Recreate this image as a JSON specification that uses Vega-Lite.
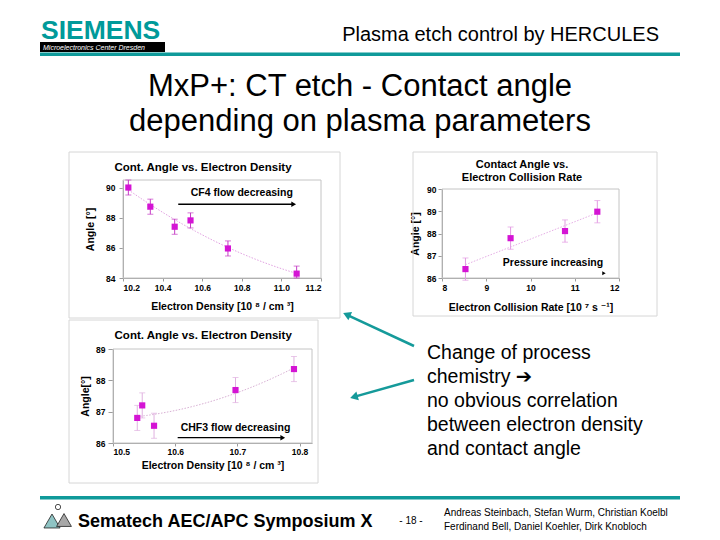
{
"$schema": "https://vega.github.io/schema/vega-lite/v6.json",
"width": 720,
"height": 540,
"autosize": {"type": "none"},
"padding": 0,
"background": "white",
"config": {
 "view": {"stroke": null},
 "font": "Liberation Sans, DejaVu Sans",
 "text": {"font": "Liberation Sans, DejaVu Sans", "color": "black"},
 "axis": {"labelFont": "Liberation Sans", "labelFontWeight": "bold", "labelFontSize": 8.5, "labelColor": "black", "titleFont": "Liberation Sans, DejaVu Sans", "titleFontWeight": "bold", "titleFontSize": 10.5, "titleColor": "black", "domainColor": "#9c9c9c", "tickColor": "#9c9c9c", "grid": false}
},
"resolve": {"scale": {"x": "independent", "y": "independent"}, "axis": {"x": "independent", "y": "independent"}},
"layer": [
 {
  "data": {"values": [
   {"x":10.227,"y":90.0,"lo":89.5,"hi":90.5},
   {"x":10.338,"y":88.73,"lo":88.23,"hi":89.23},
   {"x":10.461,"y":87.4,"lo":86.9,"hi":87.9},
   {"x":10.541,"y":87.82,"lo":87.32,"hi":88.32},
   {"x":10.73,"y":85.96,"lo":85.46,"hi":86.46},
   {"x":11.077,"y":84.29,"lo":84.0,"hi":84.79}]},
  "layer": [
   {"data":{"values":[{}]},"mark":{"type":"rect","filled":false,"color":"#c4c4c4","strokeWidth":1},
    "encoding":{
     "x":{"datum":10.2,"type":"quantitative","title":"Electron Density [10 ⁸ / cm ³]","scale":{"domain":[10.2,11.2],"range":[123,321],"nice":false,"zero":false},"axis":{"orient":"bottom","offset":-262,"values":[10.2,10.4,10.6,10.8,11,11.2],"format":".1f","tickSize":3,"labelPadding":2,"titlePadding":10}},
     "x2":{"datum":11.2},
     "y":{"datum":84,"type":"quantitative","title":"Angle [°]","scale":{"domain":[84,90.5],"range":[278,180],"nice":false,"zero":false},"axis":{"orient":"left","offset":-123,"values":[84,86,88,90],"tickSize":4,"labelPadding":4,"titlePadding":10}},
     "y2":{"datum":90.5}}},
   {"transform":[{"regression":"y","on":"x","method":"poly","order":2}],
    "mark":{"type":"line","color":"#e2a2e2","strokeWidth":1,"strokeDash":[1.5,1.5]},
    "encoding":{
     "x":{"field":"x","type":"quantitative","title":"Electron Density [10 ⁸ / cm ³]","scale":{"domain":[10.2,11.2],"range":[123,321],"nice":false,"zero":false},"axis":{"orient":"bottom","offset":-262,"values":[10.2,10.4,10.6,10.8,11,11.2],"format":".1f","tickSize":3,"labelPadding":2,"titlePadding":10}},
     "y":{"field":"y","type":"quantitative","title":"Angle [°]","scale":{"domain":[84,90.5],"range":[278,180],"nice":false,"zero":false},"axis":{"orient":"left","offset":-123,"values":[84,86,88,90],"tickSize":4,"labelPadding":4,"titlePadding":10}}}},
   {"mark":{"type":"rule","color":"#c43cc4","strokeWidth":1},
    "encoding":{
     "x":{"field":"x","type":"quantitative","title":"Electron Density [10 ⁸ / cm ³]","scale":{"domain":[10.2,11.2],"range":[123,321],"nice":false,"zero":false},"axis":{"orient":"bottom","offset":-262,"values":[10.2,10.4,10.6,10.8,11,11.2],"format":".1f","tickSize":3,"labelPadding":2,"titlePadding":10}},
     "y":{"field":"lo","type":"quantitative","title":"Angle [°]","scale":{"domain":[84,90.5],"range":[278,180],"nice":false,"zero":false},"axis":{"orient":"left","offset":-123,"values":[84,86,88,90],"tickSize":4,"labelPadding":4,"titlePadding":10}},
     "y2":{"field":"hi"}}},
   {"mark":{"type":"tick","orient":"horizontal","size":6,"thickness":1,"color":"#c43cc4"},
    "encoding":{
     "x":{"field":"x","type":"quantitative","title":"Electron Density [10 ⁸ / cm ³]","scale":{"domain":[10.2,11.2],"range":[123,321],"nice":false,"zero":false},"axis":{"orient":"bottom","offset":-262,"values":[10.2,10.4,10.6,10.8,11,11.2],"format":".1f","tickSize":3,"labelPadding":2,"titlePadding":10}},
     "y":{"field":"hi","type":"quantitative","title":"Angle [°]","scale":{"domain":[84,90.5],"range":[278,180],"nice":false,"zero":false},"axis":{"orient":"left","offset":-123,"values":[84,86,88,90],"tickSize":4,"labelPadding":4,"titlePadding":10}}}},
   {"mark":{"type":"tick","orient":"horizontal","size":6,"thickness":1,"color":"#c43cc4"},
    "encoding":{
     "x":{"field":"x","type":"quantitative","title":"Electron Density [10 ⁸ / cm ³]","scale":{"domain":[10.2,11.2],"range":[123,321],"nice":false,"zero":false},"axis":{"orient":"bottom","offset":-262,"values":[10.2,10.4,10.6,10.8,11,11.2],"format":".1f","tickSize":3,"labelPadding":2,"titlePadding":10}},
     "y":{"field":"lo","type":"quantitative","title":"Angle [°]","scale":{"domain":[84,90.5],"range":[278,180],"nice":false,"zero":false},"axis":{"orient":"left","offset":-123,"values":[84,86,88,90],"tickSize":4,"labelPadding":4,"titlePadding":10}}}},
   {"mark":{"type":"square","size":38,"color":"#d414d4","opacity":1},
    "encoding":{
     "x":{"field":"x","type":"quantitative","title":"Electron Density [10 ⁸ / cm ³]","scale":{"domain":[10.2,11.2],"range":[123,321],"nice":false,"zero":false},"axis":{"orient":"bottom","offset":-262,"values":[10.2,10.4,10.6,10.8,11,11.2],"format":".1f","tickSize":3,"labelPadding":2,"titlePadding":10}},
     "y":{"field":"y","type":"quantitative","title":"Angle [°]","scale":{"domain":[84,90.5],"range":[278,180],"nice":false,"zero":false},"axis":{"orient":"left","offset":-123,"values":[84,86,88,90],"tickSize":4,"labelPadding":4,"titlePadding":10}}}},
   {"data":{"values":[{}]},"mark":{"type":"text","text":"CF4 flow decreasing","fontSize":10.5,"fontWeight":"bold","baseline":"middle"},
    "encoding":{
     "x":{"datum":10.8,"type":"quantitative","title":"Electron Density [10 ⁸ / cm ³]","scale":{"domain":[10.2,11.2],"range":[123,321],"nice":false,"zero":false},"axis":{"orient":"bottom","offset":-262,"values":[10.2,10.4,10.6,10.8,11,11.2],"format":".1f","tickSize":3,"labelPadding":2,"titlePadding":10}},
     "y":{"datum":89.62,"type":"quantitative","title":"Angle [°]","scale":{"domain":[84,90.5],"range":[278,180],"nice":false,"zero":false},"axis":{"orient":"left","offset":-123,"values":[84,86,88,90],"tickSize":4,"labelPadding":4,"titlePadding":10}}}},
   {"data":{"values":[{}]},"mark":{"type":"rule","color":"black","strokeWidth":1.3},
    "encoding":{
     "x":{"datum":10.479,"type":"quantitative","title":"Electron Density [10 ⁸ / cm ³]","scale":{"domain":[10.2,11.2],"range":[123,321],"nice":false,"zero":false},"axis":{"orient":"bottom","offset":-262,"values":[10.2,10.4,10.6,10.8,11,11.2],"format":".1f","tickSize":3,"labelPadding":2,"titlePadding":10}},
     "x2":{"datum":11.06},
     "y":{"datum":88.89,"type":"quantitative","title":"Angle [°]","scale":{"domain":[84,90.5],"range":[278,180],"nice":false,"zero":false},"axis":{"orient":"left","offset":-123,"values":[84,86,88,90],"tickSize":4,"labelPadding":4,"titlePadding":10}}}},
   {"data":{"values":[{}]},"mark":{"type":"point","shape":"triangle-right","filled":true,"size":30,"color":"black","opacity":1},
    "encoding":{
     "x":{"datum":11.062,"type":"quantitative","title":"Electron Density [10 ⁸ / cm ³]","scale":{"domain":[10.2,11.2],"range":[123,321],"nice":false,"zero":false},"axis":{"orient":"bottom","offset":-262,"values":[10.2,10.4,10.6,10.8,11,11.2],"format":".1f","tickSize":3,"labelPadding":2,"titlePadding":10}},
     "y":{"datum":88.89,"type":"quantitative","title":"Angle [°]","scale":{"domain":[84,90.5],"range":[278,180],"nice":false,"zero":false},"axis":{"orient":"left","offset":-123,"values":[84,86,88,90],"tickSize":4,"labelPadding":4,"titlePadding":10}}}},
   {"data":{"values":[{}]},"mark":{"type":"text","text":"Cont. Angle vs. Electron Density","fontSize":11.5,"fontWeight":"bold","baseline":"alphabetic"},
    "encoding":{
     "x":{"datum":10.604,"type":"quantitative","title":"Electron Density [10 ⁸ / cm ³]","scale":{"domain":[10.2,11.2],"range":[123,321],"nice":false,"zero":false},"axis":{"orient":"bottom","offset":-262,"values":[10.2,10.4,10.6,10.8,11,11.2],"format":".1f","tickSize":3,"labelPadding":2,"titlePadding":10}},
     "y":{"datum":91.1,"type":"quantitative","title":"Angle [°]","scale":{"domain":[84,90.5],"range":[278,180],"nice":false,"zero":false},"axis":{"orient":"left","offset":-123,"values":[84,86,88,90],"tickSize":4,"labelPadding":4,"titlePadding":10}}}}
  ]
 },
 {
  "data": {"values": [
   {"x":8.53,"y":86.4,"lo":85.9,"hi":86.9},
   {"x":9.55,"y":87.79,"lo":87.29,"hi":88.29},
   {"x":10.78,"y":88.11,"lo":87.61,"hi":88.61},
   {"x":11.51,"y":88.98,"lo":88.48,"hi":89.48}]},
  "layer": [
   {"data":{"values":[{}]},"mark":{"type":"rect","filled":false,"color":"#c4c4c4","strokeWidth":1},
    "encoding":{
     "x":{"datum":8,"type":"quantitative","title":"Electron Collision Rate [10 ⁷ s ⁻¹]","scale":{"domain":[8,12],"range":[442,619],"nice":false,"zero":false},"axis":{"orient":"bottom","offset":-262,"values":[8,9,10,11,12],"tickSize":3,"labelPadding":2,"titlePadding":11}},
     "x2":{"datum":12},
     "y":{"datum":86,"type":"quantitative","title":"Angle [°]","scale":{"domain":[86,90],"range":[278,189],"nice":false,"zero":false},"axis":{"orient":"left","offset":-442,"values":[86,87,88,89,90],"tickSize":4,"labelPadding":2,"titlePadding":6}},
     "y2":{"datum":90}}},
   {"transform":[{"regression":"y","on":"x","method":"linear"}],
    "mark":{"type":"line","color":"#e6aee6","strokeWidth":1,"strokeDash":[1.5,1.5]},
    "encoding":{
     "x":{"field":"x","type":"quantitative","title":"Electron Collision Rate [10 ⁷ s ⁻¹]","scale":{"domain":[8,12],"range":[442,619],"nice":false,"zero":false},"axis":{"orient":"bottom","offset":-262,"values":[8,9,10,11,12],"tickSize":3,"labelPadding":2,"titlePadding":11}},
     "y":{"field":"y","type":"quantitative","title":"Angle [°]","scale":{"domain":[86,90],"range":[278,189],"nice":false,"zero":false},"axis":{"orient":"left","offset":-442,"values":[86,87,88,89,90],"tickSize":4,"labelPadding":2,"titlePadding":6}}}},
   {"mark":{"type":"rule","color":"#e29ae2","strokeWidth":1},
    "encoding":{
     "x":{"field":"x","type":"quantitative","title":"Electron Collision Rate [10 ⁷ s ⁻¹]","scale":{"domain":[8,12],"range":[442,619],"nice":false,"zero":false},"axis":{"orient":"bottom","offset":-262,"values":[8,9,10,11,12],"tickSize":3,"labelPadding":2,"titlePadding":11}},
     "y":{"field":"lo","type":"quantitative","title":"Angle [°]","scale":{"domain":[86,90],"range":[278,189],"nice":false,"zero":false},"axis":{"orient":"left","offset":-442,"values":[86,87,88,89,90],"tickSize":4,"labelPadding":2,"titlePadding":6}},
     "y2":{"field":"hi"}}},
   {"mark":{"type":"tick","orient":"horizontal","size":6,"thickness":1,"color":"#e29ae2"},
    "encoding":{
     "x":{"field":"x","type":"quantitative","title":"Electron Collision Rate [10 ⁷ s ⁻¹]","scale":{"domain":[8,12],"range":[442,619],"nice":false,"zero":false},"axis":{"orient":"bottom","offset":-262,"values":[8,9,10,11,12],"tickSize":3,"labelPadding":2,"titlePadding":11}},
     "y":{"field":"lo","type":"quantitative","title":"Angle [°]","scale":{"domain":[86,90],"range":[278,189],"nice":false,"zero":false},"axis":{"orient":"left","offset":-442,"values":[86,87,88,89,90],"tickSize":4,"labelPadding":2,"titlePadding":6}}}},
   {"mark":{"type":"tick","orient":"horizontal","size":6,"thickness":1,"color":"#e29ae2"},
    "encoding":{
     "x":{"field":"x","type":"quantitative","title":"Electron Collision Rate [10 ⁷ s ⁻¹]","scale":{"domain":[8,12],"range":[442,619],"nice":false,"zero":false},"axis":{"orient":"bottom","offset":-262,"values":[8,9,10,11,12],"tickSize":3,"labelPadding":2,"titlePadding":11}},
     "y":{"field":"hi","type":"quantitative","title":"Angle [°]","scale":{"domain":[86,90],"range":[278,189],"nice":false,"zero":false},"axis":{"orient":"left","offset":-442,"values":[86,87,88,89,90],"tickSize":4,"labelPadding":2,"titlePadding":6}}}},
   {"mark":{"type":"square","size":38,"color":"#d414d4","opacity":1},
    "encoding":{
     "x":{"field":"x","type":"quantitative","title":"Electron Collision Rate [10 ⁷ s ⁻¹]","scale":{"domain":[8,12],"range":[442,619],"nice":false,"zero":false},"axis":{"orient":"bottom","offset":-262,"values":[8,9,10,11,12],"tickSize":3,"labelPadding":2,"titlePadding":11}},
     "y":{"field":"y","type":"quantitative","title":"Angle [°]","scale":{"domain":[86,90],"range":[278,189],"nice":false,"zero":false},"axis":{"orient":"left","offset":-442,"values":[86,87,88,89,90],"tickSize":4,"labelPadding":2,"titlePadding":6}}}},
   {"data":{"values":[{}]},"mark":{"type":"text","text":"Pressure increasing","fontSize":10.5,"fontWeight":"bold","baseline":"middle"},
    "encoding":{
     "x":{"datum":10.508,"type":"quantitative","title":"Electron Collision Rate [10 ⁷ s ⁻¹]","scale":{"domain":[8,12],"range":[442,619],"nice":false,"zero":false},"axis":{"orient":"bottom","offset":-262,"values":[8,9,10,11,12],"tickSize":3,"labelPadding":2,"titlePadding":11}},
     "y":{"datum":86.69,"type":"quantitative","title":"Angle [°]","scale":{"domain":[86,90],"range":[278,189],"nice":false,"zero":false},"axis":{"orient":"left","offset":-442,"values":[86,87,88,89,90],"tickSize":4,"labelPadding":2,"titlePadding":6}}}},
   {"data":{"values":[{}]},"mark":{"type":"point","shape":"triangle-right","filled":true,"size":16,"color":"black","opacity":1},
    "encoding":{
     "x":{"datum":11.66,"type":"quantitative","title":"Electron Collision Rate [10 ⁷ s ⁻¹]","scale":{"domain":[8,12],"range":[442,619],"nice":false,"zero":false},"axis":{"orient":"bottom","offset":-262,"values":[8,9,10,11,12],"tickSize":3,"labelPadding":2,"titlePadding":11}},
     "y":{"datum":86.21,"type":"quantitative","title":"Angle [°]","scale":{"domain":[86,90],"range":[278,189],"nice":false,"zero":false},"axis":{"orient":"left","offset":-442,"values":[86,87,88,89,90],"tickSize":4,"labelPadding":2,"titlePadding":6}}}},
   {"data":{"values":[{}]},"mark":{"type":"text","text":"Contact Angle vs.\nElectron Collision Rate","lineBreak":"\n","lineHeight":13,"fontSize":11,"fontWeight":"bold","baseline":"alphabetic"},
    "encoding":{
     "x":{"datum":9.808,"type":"quantitative","title":"Electron Collision Rate [10 ⁷ s ⁻¹]","scale":{"domain":[8,12],"range":[442,619],"nice":false,"zero":false},"axis":{"orient":"bottom","offset":-262,"values":[8,9,10,11,12],"tickSize":3,"labelPadding":2,"titlePadding":11}},
     "y":{"datum":90.944,"type":"quantitative","title":"Angle [°]","scale":{"domain":[86,90],"range":[278,189],"nice":false,"zero":false},"axis":{"orient":"left","offset":-442,"values":[86,87,88,89,90],"tickSize":4,"labelPadding":2,"titlePadding":6}}}}
  ]
 },
 {
  "data": {"values": [
   {"x":10.539,"y":86.8,"lo":86.4,"hi":87.2},
   {"x":10.547,"y":87.2,"lo":86.8,"hi":87.6},
   {"x":10.566,"y":86.55,"lo":86.15,"hi":86.95},
   {"x":10.697,"y":87.69,"lo":87.29,"hi":88.09},
   {"x":10.791,"y":88.36,"lo":87.96,"hi":88.76}]},
  "layer": [
   {"data":{"values":[{}]},"mark":{"type":"rect","filled":false,"color":"#c4c4c4","strokeWidth":1},
    "encoding":{
     "x":{"datum":10.5,"type":"quantitative","title":"Electron Density [10 ⁸ / cm ³]","scale":{"domain":[10.5,10.82],"range":[113,312],"nice":false,"zero":false},"axis":{"orient":"bottom","offset":-97,"values":[10.5,10.6,10.7,10.8],"format":".1f","tickSize":3,"labelPadding":1,"titlePadding":5}},
     "x2":{"datum":10.82},
     "y":{"datum":86,"type":"quantitative","title":"Angle[°]","scale":{"domain":[86,89],"range":[443,349],"nice":false,"zero":false},"axis":{"orient":"left","offset":-113,"values":[86,87,88,89],"tickSize":5,"labelPadding":3,"titlePadding":5}},
     "y2":{"datum":89}}},
   {"transform":[{"regression":"y","on":"x","method":"poly","order":2}],
    "mark":{"type":"line","color":"#d8b0d4","strokeWidth":1,"strokeDash":[1.5,1.5]},
    "encoding":{
     "x":{"field":"x","type":"quantitative","title":"Electron Density [10 ⁸ / cm ³]","scale":{"domain":[10.5,10.82],"range":[113,312],"nice":false,"zero":false},"axis":{"orient":"bottom","offset":-97,"values":[10.5,10.6,10.7,10.8],"format":".1f","tickSize":3,"labelPadding":1,"titlePadding":5}},
     "y":{"field":"y","type":"quantitative","title":"Angle[°]","scale":{"domain":[86,89],"range":[443,349],"nice":false,"zero":false},"axis":{"orient":"left","offset":-113,"values":[86,87,88,89],"tickSize":5,"labelPadding":3,"titlePadding":5}}}},
   {"mark":{"type":"rule","color":"#e0b0e0","strokeWidth":1},
    "encoding":{
     "x":{"field":"x","type":"quantitative","title":"Electron Density [10 ⁸ / cm ³]","scale":{"domain":[10.5,10.82],"range":[113,312],"nice":false,"zero":false},"axis":{"orient":"bottom","offset":-97,"values":[10.5,10.6,10.7,10.8],"format":".1f","tickSize":3,"labelPadding":1,"titlePadding":5}},
     "y":{"field":"lo","type":"quantitative","title":"Angle[°]","scale":{"domain":[86,89],"range":[443,349],"nice":false,"zero":false},"axis":{"orient":"left","offset":-113,"values":[86,87,88,89],"tickSize":5,"labelPadding":3,"titlePadding":5}},
     "y2":{"field":"hi"}}},
   {"mark":{"type":"tick","orient":"horizontal","size":6,"thickness":1,"color":"#e0b0e0"},
    "encoding":{
     "x":{"field":"x","type":"quantitative","title":"Electron Density [10 ⁸ / cm ³]","scale":{"domain":[10.5,10.82],"range":[113,312],"nice":false,"zero":false},"axis":{"orient":"bottom","offset":-97,"values":[10.5,10.6,10.7,10.8],"format":".1f","tickSize":3,"labelPadding":1,"titlePadding":5}},
     "y":{"field":"lo","type":"quantitative","title":"Angle[°]","scale":{"domain":[86,89],"range":[443,349],"nice":false,"zero":false},"axis":{"orient":"left","offset":-113,"values":[86,87,88,89],"tickSize":5,"labelPadding":3,"titlePadding":5}}}},
   {"mark":{"type":"tick","orient":"horizontal","size":6,"thickness":1,"color":"#e0b0e0"},
    "encoding":{
     "x":{"field":"x","type":"quantitative","title":"Electron Density [10 ⁸ / cm ³]","scale":{"domain":[10.5,10.82],"range":[113,312],"nice":false,"zero":false},"axis":{"orient":"bottom","offset":-97,"values":[10.5,10.6,10.7,10.8],"format":".1f","tickSize":3,"labelPadding":1,"titlePadding":5}},
     "y":{"field":"hi","type":"quantitative","title":"Angle[°]","scale":{"domain":[86,89],"range":[443,349],"nice":false,"zero":false},"axis":{"orient":"left","offset":-113,"values":[86,87,88,89],"tickSize":5,"labelPadding":3,"titlePadding":5}}}},
   {"mark":{"type":"square","size":38,"color":"#d414d4","opacity":1},
    "encoding":{
     "x":{"field":"x","type":"quantitative","title":"Electron Density [10 ⁸ / cm ³]","scale":{"domain":[10.5,10.82],"range":[113,312],"nice":false,"zero":false},"axis":{"orient":"bottom","offset":-97,"values":[10.5,10.6,10.7,10.8],"format":".1f","tickSize":3,"labelPadding":1,"titlePadding":5}},
     "y":{"field":"y","type":"quantitative","title":"Angle[°]","scale":{"domain":[86,89],"range":[443,349],"nice":false,"zero":false},"axis":{"orient":"left","offset":-113,"values":[86,87,88,89],"tickSize":5,"labelPadding":3,"titlePadding":5}}}},
   {"data":{"values":[{}]},"mark":{"type":"text","text":"CHF3 flow decreasing","fontSize":10.5,"fontWeight":"bold","baseline":"middle"},
    "encoding":{
     "x":{"datum":10.697,"type":"quantitative","title":"Electron Density [10 ⁸ / cm ³]","scale":{"domain":[10.5,10.82],"range":[113,312],"nice":false,"zero":false},"axis":{"orient":"bottom","offset":-97,"values":[10.5,10.6,10.7,10.8],"format":".1f","tickSize":3,"labelPadding":1,"titlePadding":5}},
     "y":{"datum":86.49,"type":"quantitative","title":"Angle[°]","scale":{"domain":[86,89],"range":[443,349],"nice":false,"zero":false},"axis":{"orient":"left","offset":-113,"values":[86,87,88,89],"tickSize":5,"labelPadding":3,"titlePadding":5}}}},
   {"data":{"values":[{}]},"mark":{"type":"rule","color":"black","strokeWidth":1.3},
    "encoding":{
     "x":{"datum":10.604,"type":"quantitative","title":"Electron Density [10 ⁸ / cm ³]","scale":{"domain":[10.5,10.82],"range":[113,312],"nice":false,"zero":false},"axis":{"orient":"bottom","offset":-97,"values":[10.5,10.6,10.7,10.8],"format":".1f","tickSize":3,"labelPadding":1,"titlePadding":5}},
     "x2":{"datum":10.77},
     "y":{"datum":86.17,"type":"quantitative","title":"Angle[°]","scale":{"domain":[86,89],"range":[443,349],"nice":false,"zero":false},"axis":{"orient":"left","offset":-113,"values":[86,87,88,89],"tickSize":5,"labelPadding":3,"titlePadding":5}}}},
   {"data":{"values":[{}]},"mark":{"type":"point","shape":"triangle-right","filled":true,"size":30,"color":"black","opacity":1},
    "encoding":{
     "x":{"datum":10.773,"type":"quantitative","title":"Electron Density [10 ⁸ / cm ³]","scale":{"domain":[10.5,10.82],"range":[113,312],"nice":false,"zero":false},"axis":{"orient":"bottom","offset":-97,"values":[10.5,10.6,10.7,10.8],"format":".1f","tickSize":3,"labelPadding":1,"titlePadding":5}},
     "y":{"datum":86.17,"type":"quantitative","title":"Angle[°]","scale":{"domain":[86,89],"range":[443,349],"nice":false,"zero":false},"axis":{"orient":"left","offset":-113,"values":[86,87,88,89],"tickSize":5,"labelPadding":3,"titlePadding":5}}}},
   {"data":{"values":[{}]},"mark":{"type":"text","text":"Cont. Angle vs. Electron Density","fontSize":11.5,"fontWeight":"bold","baseline":"alphabetic"},
    "encoding":{
     "x":{"datum":10.645,"type":"quantitative","title":"Electron Density [10 ⁸ / cm ³]","scale":{"domain":[10.5,10.82],"range":[113,312],"nice":false,"zero":false},"axis":{"orient":"bottom","offset":-97,"values":[10.5,10.6,10.7,10.8],"format":".1f","tickSize":3,"labelPadding":1,"titlePadding":5}},
     "y":{"datum":89.32,"type":"quantitative","title":"Angle[°]","scale":{"domain":[86,89],"range":[443,349],"nice":false,"zero":false},"axis":{"orient":"left","offset":-113,"values":[86,87,88,89],"tickSize":5,"labelPadding":3,"titlePadding":5}}}}
  ]
 },
 {
  "data": {"values": [{}]},
  "layer": [
   {"mark":{"type":"rect","filled":false,"color":"#d6d6d6","strokeWidth":1},
    "encoding":{"x":{"datum":69,"type":"quantitative","scale":{"domain":[0,720],"range":[0,720]},"axis":null},"x2":{"datum":340},"y":{"datum":152,"type":"quantitative","scale":{"domain":[0,540],"range":[0,540]},"axis":null},"y2":{"datum":318}}},
   {"mark":{"type":"rect","filled":false,"color":"#d6d6d6","strokeWidth":1},
    "encoding":{"x":{"datum":413,"type":"quantitative","scale":{"domain":[0,720],"range":[0,720]},"axis":null},"x2":{"datum":657},"y":{"datum":152,"type":"quantitative","scale":{"domain":[0,540],"range":[0,540]},"axis":null},"y2":{"datum":316}}},
   {"mark":{"type":"rect","filled":false,"color":"#d6d6d6","strokeWidth":1},
    "encoding":{"x":{"datum":69,"type":"quantitative","scale":{"domain":[0,720],"range":[0,720]},"axis":null},"x2":{"datum":318},"y":{"datum":320,"type":"quantitative","scale":{"domain":[0,540],"range":[0,540]},"axis":null},"y2":{"datum":483}}},
   {"mark":{"type":"rect","color":"#000000"},
    "encoding":{"x":{"datum":40,"type":"quantitative","scale":{"domain":[0,720],"range":[0,720]},"axis":null},"x2":{"datum":165},"y":{"datum":42,"type":"quantitative","scale":{"domain":[0,540],"range":[0,540]},"axis":null},"y2":{"datum":52}}},
   {"mark":{"type":"text","text":"SIEMENS","align":"left","baseline":"alphabetic","fontSize":26.5,"fontWeight":"bold","color":"#009a9a"},
    "encoding":{"x":{"datum":41,"type":"quantitative","scale":{"domain":[0,720],"range":[0,720]},"axis":null},"y":{"datum":38.5,"type":"quantitative","scale":{"domain":[0,540],"range":[0,540]},"axis":null}}},
   {"mark":{"type":"text","text":"Microelectronics Center Dresden","align":"left","baseline":"alphabetic","fontSize":7,"fontStyle":"italic","color":"white"},
    "encoding":{"x":{"datum":43,"type":"quantitative","scale":{"domain":[0,720],"range":[0,720]},"axis":null},"y":{"datum":50.3,"type":"quantitative","scale":{"domain":[0,540],"range":[0,540]},"axis":null}}},
   {"mark":{"type":"text","text":"Plasma etch control by HERCULES","align":"right","baseline":"alphabetic","fontSize":20},
    "encoding":{"x":{"datum":659,"type":"quantitative","scale":{"domain":[0,720],"range":[0,720]},"axis":null},"y":{"datum":41,"type":"quantitative","scale":{"domain":[0,540],"range":[0,540]},"axis":null}}},
   {"mark":{"type":"rect","color":"#0f9a9a"},
    "encoding":{"x":{"datum":40,"type":"quantitative","scale":{"domain":[0,720],"range":[0,720]},"axis":null},"x2":{"datum":680},"y":{"datum":52.5,"type":"quantitative","scale":{"domain":[0,540],"range":[0,540]},"axis":null},"y2":{"datum":56}}},
   {"mark":{"type":"text","text":"MxP+: CT etch - Contact angle","align":"center","baseline":"alphabetic","fontSize":31},
    "encoding":{"x":{"datum":360,"type":"quantitative","scale":{"domain":[0,720],"range":[0,720]},"axis":null},"y":{"datum":96,"type":"quantitative","scale":{"domain":[0,540],"range":[0,540]},"axis":null}}},
   {"mark":{"type":"text","text":"depending on plasma parameters","align":"center","baseline":"alphabetic","fontSize":31},
    "encoding":{"x":{"datum":360,"type":"quantitative","scale":{"domain":[0,720],"range":[0,720]},"axis":null},"y":{"datum":131,"type":"quantitative","scale":{"domain":[0,540],"range":[0,540]},"axis":null}}},
   {"mark":{"type":"text","text":"Change of process\nchemistry ➔\nno obvious correlation\nbetween electron density\nand contact angle","lineBreak":"\n","lineHeight":24,"align":"left","baseline":"alphabetic","fontSize":19.5},
    "encoding":{"x":{"datum":427,"type":"quantitative","scale":{"domain":[0,720],"range":[0,720]},"axis":null},"y":{"datum":359,"type":"quantitative","scale":{"domain":[0,540],"range":[0,540]},"axis":null}}},
   {"mark":{"type":"rule","color":"#159a9a","strokeWidth":2.5},
    "encoding":{"x":{"datum":414,"type":"quantitative","scale":{"domain":[0,720],"range":[0,720]},"axis":null},"x2":{"datum":347},"y":{"datum":346,"type":"quantitative","scale":{"domain":[0,540],"range":[0,540]},"axis":null},"y2":{"datum":314.8}}},
   {"mark":{"type":"point","shape":"triangle-up","filled":true,"size":80,"angle":294,"color":"#159a9a","opacity":1},
    "encoding":{"x":{"datum":346.7,"type":"quantitative","scale":{"domain":[0,720],"range":[0,720]},"axis":null},"y":{"datum":314.6,"type":"quantitative","scale":{"domain":[0,540],"range":[0,540]},"axis":null}}},
   {"mark":{"type":"rule","color":"#159a9a","strokeWidth":2.5},
    "encoding":{"x":{"datum":414,"type":"quantitative","scale":{"domain":[0,720],"range":[0,720]},"axis":null},"x2":{"datum":354},"y":{"datum":380,"type":"quantitative","scale":{"domain":[0,540],"range":[0,540]},"axis":null},"y2":{"datum":396.9}}},
   {"mark":{"type":"point","shape":"triangle-up","filled":true,"size":80,"angle":254,"color":"#159a9a","opacity":1},
    "encoding":{"x":{"datum":353.9,"type":"quantitative","scale":{"domain":[0,720],"range":[0,720]},"axis":null},"y":{"datum":396.9,"type":"quantitative","scale":{"domain":[0,540],"range":[0,540]},"axis":null}}},
   {"mark":{"type":"rect","color":"#0f9a9a"},
    "encoding":{"x":{"datum":40,"type":"quantitative","scale":{"domain":[0,720],"range":[0,720]},"axis":null},"x2":{"datum":680},"y":{"datum":496,"type":"quantitative","scale":{"domain":[0,540],"range":[0,540]},"axis":null},"y2":{"datum":499.5}}},
   {"mark":{"type":"point","shape":"triangle-up","filled":true,"size":260,"color":"#8fc4c4","stroke":"#222222","strokeWidth":0.8,"opacity":1},
    "encoding":{"x":{"datum":52,"type":"quantitative","scale":{"domain":[0,720],"range":[0,720]},"axis":null},"y":{"datum":521,"type":"quantitative","scale":{"domain":[0,540],"range":[0,540]},"axis":null}}},
   {"mark":{"type":"point","shape":"triangle-up","filled":true,"size":220,"color":"#a8a8a8","stroke":"#222222","strokeWidth":0.8,"opacity":1},
    "encoding":{"x":{"datum":64,"type":"quantitative","scale":{"domain":[0,720],"range":[0,720]},"axis":null},"y":{"datum":520,"type":"quantitative","scale":{"domain":[0,540],"range":[0,540]},"axis":null}}},
   {"mark":{"type":"point","shape":"circle","filled":true,"size":28,"color":"#ffffff","stroke":"#222222","strokeWidth":0.8,"opacity":1},
    "encoding":{"x":{"datum":58,"type":"quantitative","scale":{"domain":[0,720],"range":[0,720]},"axis":null},"y":{"datum":507,"type":"quantitative","scale":{"domain":[0,540],"range":[0,540]},"axis":null}}},
   {"mark":{"type":"text","text":"Sematech AEC/APC Symposium X","align":"left","baseline":"alphabetic","fontSize":18,"fontWeight":"bold"},
    "encoding":{"x":{"datum":78,"type":"quantitative","scale":{"domain":[0,720],"range":[0,720]},"axis":null},"y":{"datum":527,"type":"quantitative","scale":{"domain":[0,540],"range":[0,540]},"axis":null}}},
   {"mark":{"type":"text","text":"- 18 -","align":"center","baseline":"alphabetic","fontSize":10},
    "encoding":{"x":{"datum":411,"type":"quantitative","scale":{"domain":[0,720],"range":[0,720]},"axis":null},"y":{"datum":523.5,"type":"quantitative","scale":{"domain":[0,540],"range":[0,540]},"axis":null}}},
   {"mark":{"type":"text","text":"Andreas Steinbach, Stefan Wurm, Christian Koelbl\nFerdinand Bell, Daniel Koehler, Dirk Knobloch","lineBreak":"\n","lineHeight":14,"align":"left","baseline":"alphabetic","fontSize":10},
    "encoding":{"x":{"datum":444,"type":"quantitative","scale":{"domain":[0,720],"range":[0,720]},"axis":null},"y":{"datum":516,"type":"quantitative","scale":{"domain":[0,540],"range":[0,540]},"axis":null}}}
  ]
 }
]
}
